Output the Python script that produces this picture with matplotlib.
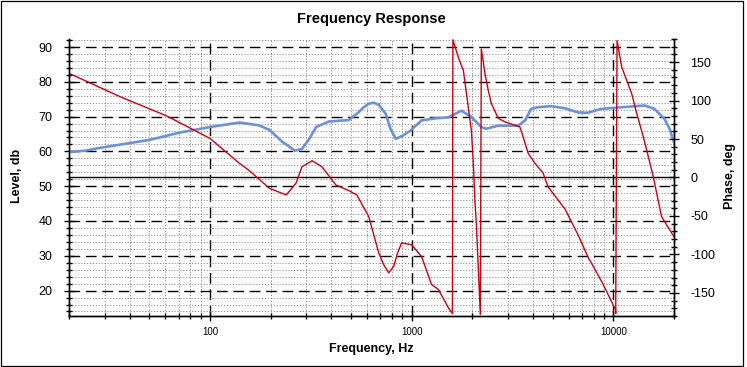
import matplotlib.pyplot as plt
import matplotlib.patches as mpatches
from matplotlib.ticker import FixedLocator, LogLocator, MultipleLocator, NullFormatter

plt.rcParams['font.family'] = ['Liberation Sans', 'DejaVu Sans']
plt.rcParams['axes.unicode_minus'] = False

# level curve (left axis, dB)
level_freq = [20, 24, 28.4, 40, 50.2, 70.7, 100, 140, 175, 197, 228, 264, 286,
              310, 336, 389, 488, 547, 579, 613, 649, 687, 744, 785, 834, 902,
              988, 1120, 1314, 1522, 1765, 1978, 2216, 2345, 2688, 3374, 3654,
              3912, 4236, 4910, 5760, 6677, 7480, 8670, 10520, 14300, 16020,
              17960, 19010, 20000]
level_db = [59.8, 60.2, 61.0, 62.4, 63.3, 65.4, 67.0, 68.3, 67.5, 66.2, 62.8,
            60.2, 60.7, 63.5, 67.0, 68.6, 69.0, 71.3, 72.7, 73.7, 74.0, 73.4,
            70.8, 66.5, 63.6, 64.5, 66.0, 68.9, 69.5, 69.8, 71.7, 69.9, 67.0,
            66.5, 67.4, 67.4, 68.9, 72.2, 72.7, 73.0, 72.4, 71.2, 71.1, 72.2,
            72.6, 73.2, 72.2, 69.3, 66.5, 62.6]

# phase curve (right axis, deg), wrapped to +-180
phase_freq = [20, 35.7, 61, 100, 140, 157, 197, 239, 267, 286, 321, 359, 421,
              488, 535, 613, 687, 727, 769, 815, 852, 892, 999, 1120, 1255,
              1359, 1522, 1593, 1602, 1706, 1806, 1910, 1978, 2023, 2062, 2094,
              2191, 2216, 2311, 2400, 2482, 2688, 2900, 3250, 3440, 3572, 3780,
              4080, 4484, 4746, 5318, 5760, 6700, 7480, 8832, 10250, 10280,
              10440, 11010, 12340, 13060, 14090, 14920, 15790, 16400, 17350,
              20000]
phase_deg = [135.4, 105.2, 80.0, 50.8, 18.4, 8.8, -14.0, -22.7, -7.5, 14.0,
             21.8, 14.0, -9.7, -17.0, -22.7, -50.8, -98.0, -113.3, -124.0,
             -115.5, -98.0, -85.0, -87.4, -102.6, -139.0, -145.7, -169.4,
             -177.0, 179.0, 156.0, 139.0, 91.0, 61.5, 18.8, -33.0, -60.0,
             -178.0, 167.0, 135.0, 113.0, 96.5, 77.0, 72.3, 68.0, 65.8, 52.8,
             31.7, 18.8, 5.8, -12.0, -29.0, -41.0, -75.0, -103.0, -137.0,
             -171.6, -177.0, 178.0, 143.5, 109.0, 83.5, 52.8, 27.0, 1.0, -20.0,
             -50.8, -77.0]

x_ticks = [100, 1000, 10000]
x_tick_labels = ['100', '1000', '10000']
level_ticks = [20, 30, 40, 50, 60, 70, 80, 90]
phase_ticks = [-150, -100, -50, 0, 50, 100, 150]

W, H = 747, 367
fig = plt.figure(figsize=(W / 100, H / 100), dpi=100)
ax = fig.add_axes([69 / W, (H - 316) / H, 605 / W, 277 / H])

ax.set_xscale('log')
ax.set_xlim(20, 20000)
ax.set_ylim(12.7, 92.3)
ax.xaxis.set_major_locator(FixedLocator(x_ticks))
ax.set_xticklabels(x_tick_labels)
ax.xaxis.set_minor_locator(LogLocator(base=10, subs=range(2, 10)))
ax.xaxis.set_minor_formatter(NullFormatter())
ax.yaxis.set_major_locator(FixedLocator(level_ticks))
ax.yaxis.set_minor_locator(MultipleLocator(2))

ax.grid(which='major', color='black', linestyle=(0, (7.7, 4.1)), linewidth=1.0)
ax.grid(which='minor', color='#8c8c8c', linestyle=(0, (1.2, 1.8)), linewidth=0.7)
ax.set_axisbelow(True)

ax.tick_params(axis='y', which='major', direction='inout', length=7.2, width=1,
               labelsize=9, pad=8.4)
ax.tick_params(axis='y', which='minor', direction='inout', length=4, width=1)
ax.tick_params(axis='x', which='major', direction='inout', length=7.5, width=1,
               labelsize=7, pad=4)
ax.tick_params(axis='x', which='minor', direction='inout', length=4, width=1)

ax.plot(level_freq, level_db, color='#6b91d8', linewidth=1.9, zorder=3)

ax2 = ax.twinx()
ax2.set_ylim(-180, 180)
ax2.yaxis.set_major_locator(FixedLocator(phase_ticks))
ax2.yaxis.set_minor_locator(MultipleLocator(10))
ax2.tick_params(axis='y', which='major', direction='inout', length=7.2, width=1,
                labelsize=9, pad=8)
ax2.tick_params(axis='y', which='minor', direction='inout', length=4, width=1)
ax2.axhline(0, color='black', linewidth=1.0, zorder=1)
ax2.plot(phase_freq, phase_deg, color='#cc0010', linewidth=1.0, zorder=2)

for a in (ax, ax2):
    a.spines['top'].set_visible(False)
    for s in ('left', 'right', 'bottom'):
        a.spines[s].set_linewidth(1.0)

fig.text(371.5 / W, 1 - 19 / H, 'Frequency Response', ha='center', va='center',
         fontsize=10.5, fontweight='bold')
fig.text(371 / W, 1 - 349 / H, 'Frequency, Hz', ha='center', va='center',
         fontsize=9, fontweight='bold')
fig.text(17.5 / W, 1 - 175.5 / H, 'Level, db', ha='center', va='center',
         rotation=90, fontsize=9, fontweight='bold')
fig.text(730 / W, 1 - 176 / H, 'Phase, deg', ha='center', va='center',
         rotation=90, fontsize=9, fontweight='bold')

border = mpatches.Rectangle((1 / W, 1 / H), 742 / W, 365 / H, fill=False,
                            edgecolor='black', linewidth=0.9,
                            transform=fig.transFigure)
fig.patches.append(border)

fig.savefig('out.png', dpi=100)
